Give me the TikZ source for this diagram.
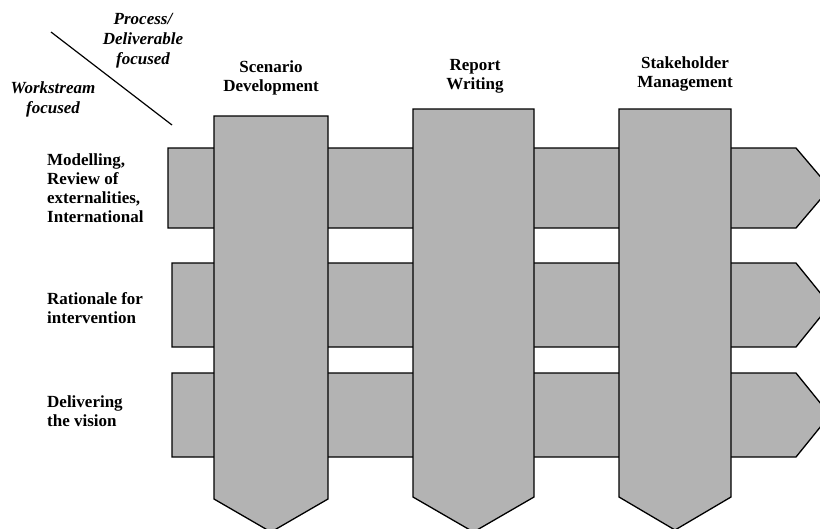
\documentclass[tikz,border=0pt]{standalone}
\usepackage{fontspec}
\setmainfont{Liberation Serif}
\tikzset{
  band/.style={fill=shapegray, draw=black, line width=1.3pt, line join=miter},
  lbl/.style={font=\bfseries\fontsize{17}{19}\selectfont, align=left, anchor=west, inner sep=0pt},
  hdr/.style={font=\bfseries\fontsize{17}{19}\selectfont, align=center, inner sep=0pt},
  itl/.style={font=\bfseries\itshape\fontsize{17}{20}\selectfont, align=center, inner sep=0pt}
}
\definecolor{shapegray}{RGB}{179,179,179}
\begin{document}
\begin{tikzpicture}[x=1pt,y=-1pt]
\useasboundingbox (0,0) rectangle (820,528);
% horizontal workstream arrows
\draw[band] (168,148) -- (796,148) -- (830,188) -- (796,228) -- (168,228) -- cycle;
\draw[band] (172,263) -- (796,263) -- (830,305) -- (796,347) -- (172,347) -- cycle;
\draw[band] (172,373) -- (796,373) -- (830,415) -- (796,457) -- (172,457) -- cycle;
% vertical process arrows
\draw[band] (214,116) -- (328,116) -- (328,499) -- (271,532) -- (214,499) -- cycle;
\draw[band] (413,109) -- (534,109) -- (534,497) -- (473.5,532) -- (413,497) -- cycle;
\draw[band] (619,109) -- (731,109) -- (731,497) -- (675,530) -- (619,497) -- cycle;
% corner
\coordinate (d1) at (51,32);
\coordinate (d2) at (172,125);
\draw[line width=1.2pt] (d1) -- (d2);
\node[itl] (proc) at (143,41) {Process/\\Deliverable\\focused};
\node[itl] (work) at (53,99) {Workstream\\focused};
% headers
\node[hdr] (h1) at (271,78) {Scenario\\Development};
\node[hdr] (h2) at (475,76) {Report\\Writing};
\node[hdr] (h3) at (685,74) {Stakeholder\\Management};
% row labels
\node[lbl] (r1) at (47,188) {Modelling,\\Review of\\externalities,\\International};
\node[lbl] (r2) at (47,308) {Rationale for\\intervention};
\node[lbl] (r3) at (47,411) {Delivering\\the vision};
\end{tikzpicture}
\end{document}
